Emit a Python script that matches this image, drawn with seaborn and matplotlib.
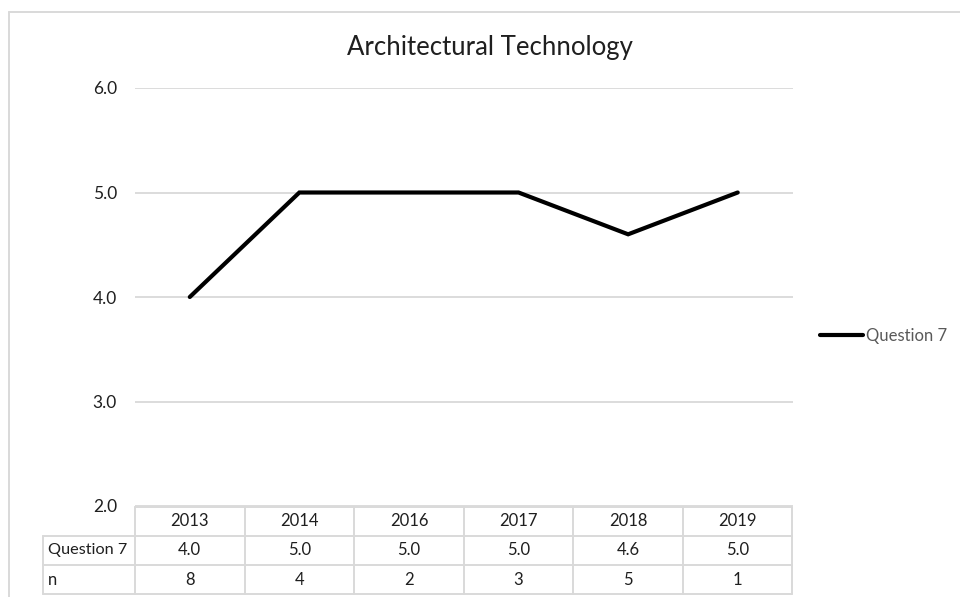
import matplotlib
matplotlib.use('Agg')
import matplotlib.pyplot as plt
import seaborn as sns
import pandas as pd
from matplotlib.transforms import blended_transform_factory
from matplotlib.lines import Line2D

# ---- data ----
years = ['2013', '2014', '2016', '2017', '2018', '2019']
question7 = [4.0, 5.0, 5.0, 5.0, 4.6, 5.0]
n_counts = [8, 4, 2, 3, 5, 1]
yticks = [2.0, 3.0, 4.0, 5.0, 6.0]
title = 'Architectural Technology'
series_name = 'Question 7'
row_label_n = 'n'

sns.set_theme(style='white')
plt.rcParams['font.family'] = ['Lato', 'DejaVu Sans']

W, H = 960, 597
fig = plt.figure(figsize=(W / 100, H / 100), dpi=100)
fig.patch.set_facecolor('white')


def fx(px):
    return px / W


def fy(py):
    return 1 - py / H


ax = fig.add_axes([fx(135), fy(506), fx(792.5) - fx(135), fy(88) - fy(506)])
df = pd.DataFrame({'pos': list(range(len(years))), 'value': question7, 'series': series_name})
sns.lineplot(data=df, x='pos', y='value', ax=ax, color='black', linewidth=3,
             solid_capstyle='round', solid_joinstyle='miter', label=series_name)

ax.set_xlim(-0.5, len(years) - 0.5)
ax.set_ylim(min(yticks), max(yticks))
ax.set_yticks(yticks)
ax.set_yticklabels([f'{v:.1f}' for v in yticks], fontsize=12.5, color='#1f1f1f')
ax.set_xticks([])
ax.set_xlabel('')
ax.set_ylabel('')
ax.yaxis.grid(True, color='#d9d9d9', linewidth=1.3)
ax.set_axisbelow(True)
for s in ax.spines.values():
    s.set_visible(False)
ax.tick_params(axis='y', length=0, pad=13)

# title
fig.text(fx(490), fy(47), title, ha='center', va='center', fontsize=18.5, color='#1f1f1f')

# ---- data table ----
trans = blended_transform_factory(ax.transData, fig.transFigure)
grid_c = '#d9d9d9'
lw = 1.4
rows = [506.7, 535.7, 565.0, 594.3]
xl = -0.5 - (135 - 43.3) / 109.5
xr = len(years) - 0.5
# horizontal lines
ax.add_line(Line2D([-0.5, xr], [fy(rows[0])] * 2, transform=trans, color=grid_c, lw=lw, clip_on=False))
for r in rows[1:]:
    ax.add_line(Line2D([xl, xr], [fy(r)] * 2, transform=trans, color=grid_c, lw=lw, clip_on=False))
# vertical lines
ax.add_line(Line2D([xl, xl], [fy(rows[1]), fy(rows[3])], transform=trans, color=grid_c, lw=lw, clip_on=False))
for k in range(len(years) + 1):
    ax.add_line(Line2D([k - 0.5, k - 0.5], [fy(rows[0]), fy(rows[3])], transform=trans,
                       color=grid_c, lw=lw, clip_on=False))
# texts
tc = '#1f1f1f'
for i, y in enumerate(years):
    ax.text(i, fy((rows[0] + rows[1]) / 2), y, transform=trans, ha='center', va='center', fontsize=12, color=tc)
    ax.text(i, fy((rows[1] + rows[2]) / 2), f'{question7[i]:.1f}', transform=trans, ha='center', va='center',
            fontsize=12, color=tc)
    ax.text(i, fy((rows[2] + rows[3]) / 2), str(n_counts[i]), transform=trans, ha='center', va='center',
            fontsize=12, color=tc)
ax.text(xl + 5 / 109.5, fy((rows[1] + rows[2]) / 2), series_name, transform=trans, ha='left', va='center',
        fontsize=11.7, color=tc)
ax.text(xl + 5 / 109.5, fy((rows[2] + rows[3]) / 2), row_label_n, transform=trans, ha='left', va='center',
        fontsize=12, color=tc)

# legend
handles, labels = ax.get_legend_handles_labels()
leg = ax.legend(handles, labels, loc='center left', bbox_to_anchor=(fx(820), fy(336)),
                bbox_transform=fig.transFigure, frameon=False, handlelength=2.6, handletextpad=0.15,
                borderpad=0, borderaxespad=0, fontsize=12)
for t in leg.get_texts():
    t.set_color('#595959')

# outer chart border (partial, as in the reference crop)
fig.add_artist(Line2D([fx(9), fx(9)], [fy(12), 0], color=grid_c, lw=1.4))
fig.add_artist(Line2D([fx(9), 1.01], [fy(12), fy(12)], color=grid_c, lw=1.4))

fig.savefig('out.png', dpi=100)
